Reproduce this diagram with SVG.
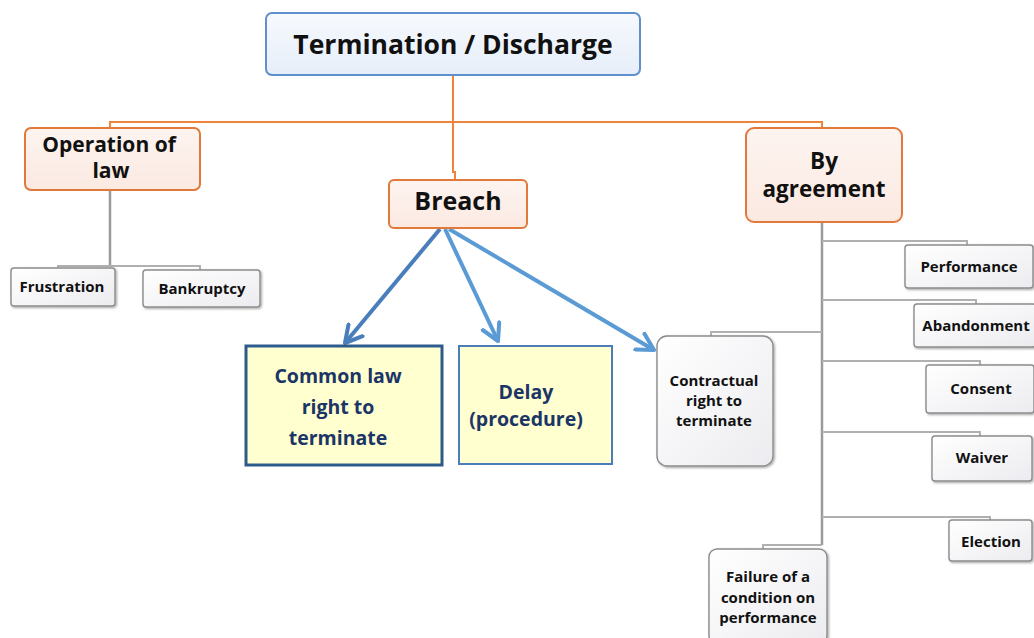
<svg xmlns="http://www.w3.org/2000/svg" width="1034" height="638" viewBox="0 0 1034 638">
  <defs>
    <linearGradient id="gTitle" x1="0" y1="0" x2="0" y2="1">
      <stop offset="0" stop-color="#f7f9fd"/>
      <stop offset="1" stop-color="#e6eef9"/>
    </linearGradient>
    <linearGradient id="gOrange" x1="0" y1="0" x2="0" y2="1">
      <stop offset="0" stop-color="#fdf4f0"/>
      <stop offset="1" stop-color="#fbe9e1"/>
    </linearGradient>
    <linearGradient id="gGrey" x1="0" y1="0" x2="1" y2="1">
      <stop offset="0" stop-color="#ffffff"/>
      <stop offset="1" stop-color="#ececf0"/>
    </linearGradient>
    <filter id="shadow" x="-10%" y="-10%" width="130%" height="130%">
      <feDropShadow dx="1.2" dy="1.2" stdDeviation="0.8" flood-color="#000" flood-opacity="0.35"/>
    </filter>
    <marker id="chevA" viewBox="0 0 12 12" refX="10" refY="6" markerWidth="5.5" markerHeight="5.5" markerUnits="strokeWidth" orient="auto">
      <path d="M1,1 L10,6 L1,11" fill="none" stroke="#4a7ebb" stroke-width="2.2" stroke-linecap="round" stroke-linejoin="round"/>
    </marker>
    <marker id="chevB" viewBox="0 0 12 12" refX="10" refY="6" markerWidth="5.5" markerHeight="5.5" markerUnits="strokeWidth" orient="auto">
      <path d="M1,1 L10,6 L1,11" fill="none" stroke="#5b9bd5" stroke-width="2.2" stroke-linecap="round" stroke-linejoin="round"/>
    </marker>
  </defs>
  <style>
    text { font-family: "Open Sans", Lato, "Liberation Sans", sans-serif; font-weight: bold; text-anchor: middle; }
    .title { font-size: 26.5px; fill: #111; }
    .orange { fill: url(#gOrange); stroke: #e0793a; stroke-width: 2; }
    .grey { fill: url(#gGrey); stroke: #8c8c8c; stroke-width: 1.4; filter: url(#shadow); }
    .lvl1 { font-size: 21px; fill: #111; }
    .small { font-size: 15px; fill: #111; }
    .yellow { fill: #ffffcf; }
    .navy { font-size: 19.5px; fill: #1b3566; }
    .orangeLine { fill: none; stroke: #f0843a; stroke-width: 2; }
    .greyLine { fill: none; stroke: #9a9a9a; stroke-width: 2.5; }
    .greyThin { fill: none; stroke: #b0b0b0; stroke-width: 2; }
  </style>

  <rect width="1034" height="638" fill="#ffffff"/>

  <!-- connectors -->
  <g id="connectors">
    <!-- root to main branches -->
    <path class="orangeLine" d="M453,75 V172 H455 V180"/>
    <path class="orangeLine" d="M110,128 V122 H822 V128"/>
    <!-- operation of law children -->
    <path class="greyLine" d="M110,190 V266"/>
    <path class="greyThin" d="M58,268 V266 H200 V270"/>
    <!-- by agreement trunk and branches -->
    <path class="greyLine" d="M822,222 V545"/>
    <path class="greyThin" d="M822,241 H967 V245"/>
    <path class="greyThin" d="M822,300 H976 V304"/>
    <path class="greyThin" d="M822,332 H711 V336"/>
    <path class="greyThin" d="M822,361 H980 V365"/>
    <path class="greyThin" d="M822,432 H980 V436"/>
    <path class="greyThin" d="M822,517 H990 V520"/>
    <path class="greyThin" d="M822,545 H763 V549"/>
    <!-- breach arrows -->
    <path d="M440,229 L345,343" fill="none" stroke="#4a7ebb" stroke-width="4" marker-end="url(#chevA)"/>
    <path d="M445,229 L498,341" fill="none" stroke="#5b9bd5" stroke-width="4" marker-end="url(#chevB)"/>
    <path d="M449,229 L654,350" fill="none" stroke="#5b9bd5" stroke-width="4" marker-end="url(#chevB)"/>
  </g>

  <g id="root">
    <rect x="266" y="13" width="374" height="62" rx="6" fill="url(#gTitle)" stroke="#5f8fcd" stroke-width="2"/>
    <text class="title" x="453" y="54">Termination / Discharge</text>
  </g>

  <g id="operation-of-law">
    <rect class="orange" x="25" y="128" width="175" height="62" rx="6"/>
    <text class="lvl1" x="109" y="152">Operation of</text>
    <text class="lvl1" x="111" y="178">law</text>
  </g>

  <g id="breach">
    <rect class="orange" x="389" y="180" width="138" height="48" rx="5"/>
    <text x="458" y="210" style="font-size:25px;fill:#111">Breach</text>
  </g>

  <g id="by-agreement">
    <rect class="orange" x="746" y="128" width="156" height="94" rx="8"/>
    <text class="lvl1" x="824" y="169" style="font-size:22.5px">By</text>
    <text class="lvl1" x="824" y="197" style="font-size:22.5px">agreement</text>
  </g>

  <g id="frustration">
    <rect class="grey" x="11" y="268" width="104" height="38" rx="3"/>
    <text class="small" x="62" y="292">Frustration</text>
  </g>

  <g id="bankruptcy">
    <rect class="grey" x="143" y="270" width="117" height="37" rx="3"/>
    <text class="small" x="202" y="294">Bankruptcy</text>
  </g>

  <g id="common-law">
    <rect class="yellow" x="246" y="346" width="196" height="119" stroke="#2e5b8e" stroke-width="3"/>
    <text class="navy" x="338" y="383">Common law</text>
    <text class="navy" x="338" y="414">right to</text>
    <text class="navy" x="338" y="445">terminate</text>
  </g>

  <g id="delay">
    <rect class="yellow" x="459" y="346" width="153" height="118" stroke="#4a7ebb" stroke-width="2"/>
    <text class="navy" x="526" y="399">Delay</text>
    <text class="navy" x="526" y="426">(procedure)</text>
  </g>

  <g id="contractual">
    <rect class="grey" x="657" y="336" width="116" height="130" rx="10"/>
    <text class="small" x="714" y="386">Contractual</text>
    <text class="small" x="714" y="406">right to</text>
    <text class="small" x="714" y="426">terminate</text>
  </g>

  <g id="performance">
    <rect class="grey" x="905" y="245" width="128" height="43" rx="3"/>
    <text class="small" x="969" y="272">Performance</text>
  </g>

  <g id="abandonment">
    <rect class="grey" x="914" y="304" width="122" height="43" rx="3"/>
    <text class="small" x="976" y="331">Abandonment</text>
  </g>

  <g id="consent">
    <rect class="grey" x="926" y="365" width="108" height="48" rx="3"/>
    <text class="small" x="981" y="394">Consent</text>
  </g>

  <g id="waiver">
    <rect class="grey" x="932" y="436" width="100" height="45" rx="3"/>
    <text class="small" x="982" y="463">Waiver</text>
  </g>

  <g id="election">
    <rect class="grey" x="949" y="520" width="83" height="41" rx="3"/>
    <text class="small" x="991" y="547">Election</text>
  </g>

  <g id="failure">
    <rect class="grey" x="709" y="549" width="118" height="95" rx="8"/>
    <text class="small" x="768" y="582">Failure of a</text>
    <text class="small" x="768" y="603">condition on</text>
    <text class="small" x="768" y="623">performance</text>
  </g>
</svg>
